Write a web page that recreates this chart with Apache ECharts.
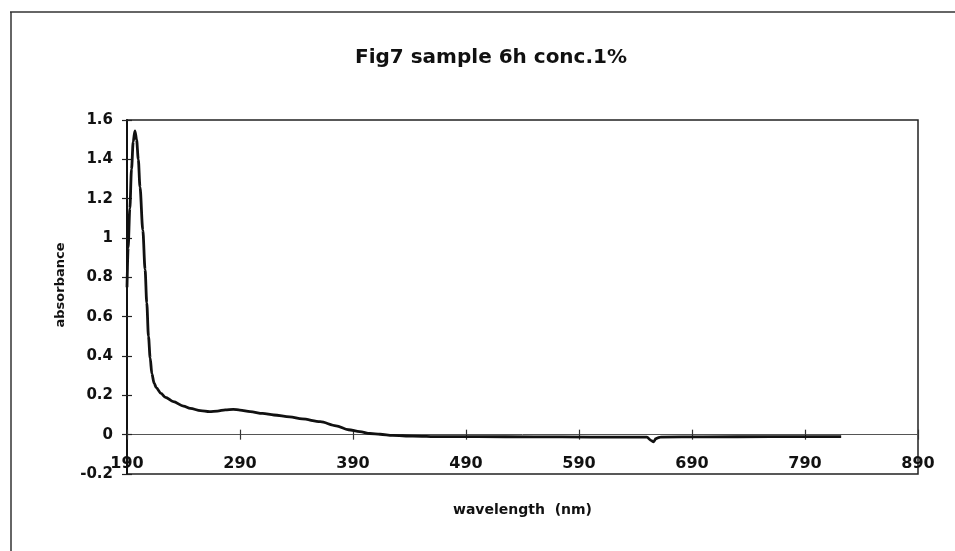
<!DOCTYPE html>
<html>
<head>
<meta charset="utf-8">
<script src="https://cdn.jsdelivr.net/npm/echarts@6/dist/echarts.min.js"></script>
<style>
html,body{margin:0;padding:0;background:#fff;}
#chart{width:955px;height:551px;}
</style>
</head>
<body>
<div id="chart"></div>
<script>
// ---- data ----
const titleText = 'Fig7 sample 6h conc.1%';
const xAxisName = 'wavelength  (nm)';
const yAxisName = 'absorbance';
const xTickLabels = ['190', '290', '390', '490', '590', '690', '790', '890'];
const wavelengths = [190, 191, 192.5, 194, 195.5, 197, 198.5, 200, 201.5, 204, 206, 207.5, 209, 210.5, 212, 214, 216, 220, 224, 231, 240, 246, 255, 263, 270, 277, 284, 290, 299, 310, 320, 334, 345, 361, 375, 386, 396, 405, 414, 425, 443, 467, 500, 550, 600, 640, 650, 654, 656, 658, 662, 700, 760, 822];
const absorbance = [0.75, 0.95, 1.15, 1.35, 1.49, 1.545, 1.5, 1.4, 1.26, 1.04, 0.84, 0.67, 0.5, 0.39, 0.31, 0.262, 0.238, 0.21, 0.19, 0.168, 0.145, 0.134, 0.122, 0.117, 0.12, 0.126, 0.129, 0.125, 0.117, 0.108, 0.1, 0.09, 0.08, 0.066, 0.045, 0.025, 0.015, 0.006, 0.002, -0.004, -0.007, -0.01, -0.01, -0.011, -0.012, -0.012, -0.013, -0.03, -0.037, -0.02, -0.012, -0.011, -0.01, -0.01];

// x is plotted relative to the first tick label so ticks fall on 190, 290, ...
const X0 = Number(xTickLabels[0]);
const XSTEP = Number(xTickLabels[1]) - X0;
const XMAX = Number(xTickLabels[xTickLabels.length - 1]) - X0;
const seriesData = wavelengths.map((w, i) => [w - X0, absorbance[i]]);

const FONT = 'DejaVu Sans';
const INK = '#111';

const chart = echarts.init(document.getElementById('chart'), null, {renderer: 'canvas'});
chart.setOption({
  animation: false,
  backgroundColor: '#fff',
  title: {
    text: titleText,
    left: 350,
    top: 43,
    textStyle: {fontFamily: FONT, fontWeight: 'bold', fontSize: 20, color: INK}
  },
  grid: {
    left: 127, right: 37, top: 120, bottom: 77,
    containLabel: false, outerBoundsMode: 'none',
    show: true, borderColor: '#222', borderWidth: 1.5, backgroundColor: 'transparent'
  },
  xAxis: [{
    type: 'value', min: 0, max: XMAX, interval: XSTEP,
    axisLine: {show: true, onZero: true, onZeroAxisIndex: 0, lineStyle: {color: '#555', width: 1}},
    axisTick: {show: true, inside: false, length: 5, lineStyle: {color: '#333', width: 1.2}},
    axisLabel: {
      show: true, margin: -18, showMinLabel: true, showMaxLabel: true,
      fontFamily: FONT, fontWeight: 'bold', fontSize: 16, color: INK,
      formatter: v => xTickLabels[Math.round(v / XSTEP)]
    },
    splitLine: {show: false},
    name: xAxisName, nameLocation: 'middle', nameGap: 29,
    nameTextStyle: {fontFamily: FONT, fontWeight: 'bold', fontSize: 14, color: INK}
  }, {
    type: 'value', min: 0, max: XMAX, interval: XSTEP, position: 'bottom',
    axisLine: {show: false, onZero: true, onZeroAxisIndex: 0},
    axisTick: {show: true, inside: true, length: 5, lineStyle: {color: '#333', width: 1.2}},
    axisLabel: {show: false},
    splitLine: {show: false}
  }],
  yAxis: [{
    type: 'value', min: -0.2, max: 1.6, interval: 0.2, position: 'left',
    axisLine: {show: true, onZero: false, lineStyle: {color: '#111', width: 2}},
    axisTick: {show: true, inside: false, length: 5, lineStyle: {color: '#222', width: 1.2}},
    axisLabel: {
      margin: 14, fontFamily: FONT, fontWeight: 'bold', fontSize: 15, color: INK,
      formatter: v => String(Math.round(v * 10) / 10)
    },
    splitLine: {show: false},
    name: yAxisName, nameLocation: 'middle', nameGap: 60,
    nameTextStyle: {fontFamily: FONT, fontWeight: 'bold', fontSize: 13, color: INK, padding: [0, 0, 0, 24]}
  }, {
    type: 'value', min: -0.2, max: 1.6, interval: 0.2, position: 'left',
    axisLine: {show: false, onZero: false},
    axisTick: {show: true, inside: true, length: 5, lineStyle: {color: '#222', width: 1.2}},
    axisLabel: {show: false},
    splitLine: {show: false}
  }],
  series: [{
    type: 'line',
    xAxisIndex: 0, yAxisIndex: 0,
    data: seriesData,
    showSymbol: false,
    smooth: 0.3,
    smoothMonotone: 'x',
    lineStyle: {color: '#111', width: 2.8},
    z: 5
  }],
  graphic: [
    {type: 'line', shape: {x1: 10, y1: 12, x2: 955, y2: 12}, style: {stroke: '#333', lineWidth: 1.5}},
    {type: 'line', shape: {x1: 11, y1: 12, x2: 11, y2: 551}, style: {stroke: '#333', lineWidth: 1.5}}
  ]
});
</script>
</body>
</html>
